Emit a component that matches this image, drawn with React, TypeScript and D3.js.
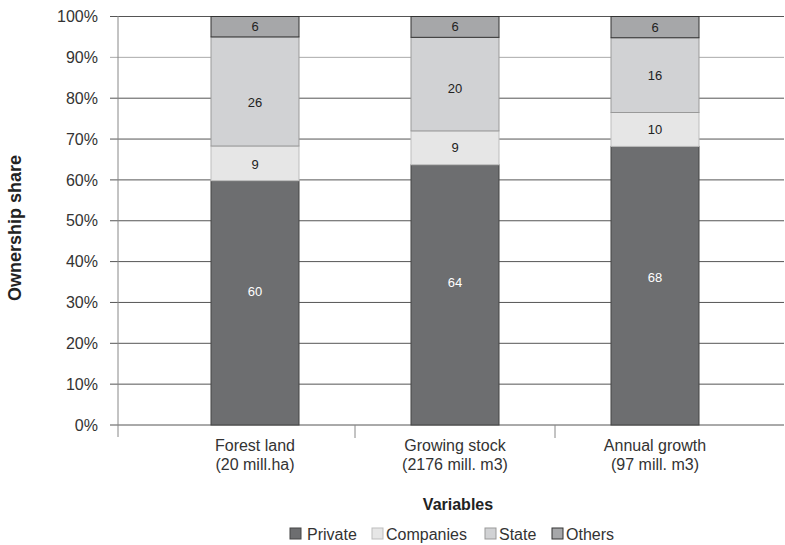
import React from "react";
import * as d3 from "d3";

const categories = ["Forest land|(20 mill.ha)", "Growing stock|(2176 mill. m3)", "Annual growth|(97 mill. m3)"];
const seriesNames = ["Private", "Companies", "State", "Others"];
// segment shares (%)
const privateVals = [59.8, 63.7, 68.2];
const companiesVals = [8.5, 8.3, 8.3];
const stateVals = [26.7, 22.9, 18.3];
const othersVals = [5.0, 5.1, 5.2];
// printed data labels
const privateLabels = ["60", "64", "68"];
const companiesLabels = ["9", "9", "10"];
const stateLabels = ["26", "20", "16"];
const othersLabels = ["6", "6", "6"];
const yTicks = [0, 0.1, 0.2, 0.3, 0.4, 0.5, 0.6, 0.7, 0.8, 0.9, 1];

const labelSets = [privateLabels, companiesLabels, stateLabels, othersLabels];
// label placement nudges (px) relative to segment centre
const labelNudge = [
  [-11, -12, -8],
  [1, 0, 0],
  [11, 4, 0],
  [0, 0, 0],
];
const colors = ["#6d6e70", "#e6e6e6", "#d1d2d4", "#a6a7a9"];
const strokes = ["#444", "#bdbdbd", "#999", "#333"];
const labelColors = ["#ffffff", "#222", "#222", "#222"];
const legendX = [290, 372, 485, 552];
const legendTextX = [307, 386, 499, 566];

export default function App() {
  const W = 785, H = 545;
  const axisX = 118;
  const x = d3.scaleBand<string>().domain(categories).range([155, 755]).paddingInner(0.56).paddingOuter(0.28);
  const y = d3.scaleLinear().domain([0, 1]).range([425, 16.5]);
  const rows = categories.map((c, i) => ({
    cat: c,
    Private: privateVals[i],
    Companies: companiesVals[i],
    State: stateVals[i],
    Others: othersVals[i],
  }));
  const stack = d3.stack<any>().keys(seriesNames).offset(d3.stackOffsetExpand);
  const series = stack(rows);
  const font = "'Liberation Sans', Arial, sans-serif";
  const bw = x.bandwidth();
  return (
    <svg width={W} height={H} style={{ position: "absolute", left: 0, top: 0 }} fontFamily={font}>
      <rect width={W} height={H} fill="#fff" />
      {yTicks.map((t) => (
        <g key={t}>
          <line x1={110} x2={784} y1={y(t)} y2={y(t)} stroke={t === 0.9 ? "#aaa" : "#555"} strokeWidth={1} />
          <text x={98} y={y(t)} dy="0.35em" textAnchor="end" fontSize={16} fill="#333">
            {Math.round(t * 100)}%
          </text>
        </g>
      ))}
      <line x1={axisX} x2={axisX} y1={16} y2={437} stroke="#888" />
      {[355, 555].map((tx) => (
        <line key={tx} x1={tx} x2={tx} y1={425} y2={438} stroke="#888" />
      ))}
      {series.map((s, si) =>
        s.map((d, i) => {
          const x0 = x(categories[i])!;
          const y0 = y(d[1]);
          const h = y(d[0]) - y(d[1]);
          return (
            <g key={si + "-" + i}>
              <rect x={x0} y={y0} width={bw} height={h} fill={colors[si]} stroke={strokes[si]} strokeWidth={1} />
              <text x={x0 + bw / 2} y={y0 + h / 2 + labelNudge[si][i]} dy="0.35em" textAnchor="middle" fontSize={13} fill={labelColors[si]}>
                {labelSets[si][i]}
              </text>
            </g>
          );
        })
      )}
      {categories.map((c) => {
        const [a, b] = c.split("|");
        const cx = x(c)! + bw / 2;
        return (
          <text key={c} x={cx} textAnchor="middle" fontSize={16} fill="#333">
            <tspan x={cx} y={451}>{a}</tspan>
            <tspan x={cx} y={470}>{b}</tspan>
          </text>
        );
      })}
      <text x={458} y={510} textAnchor="middle" fontSize={16} fontWeight="bold" fill="#222">Variables</text>
      <text transform="translate(21,228) rotate(-90)" textAnchor="middle" fontSize={18} fontWeight="bold" fill="#222">
        Ownership share
      </text>
      {seriesNames.map((n, i) => (
        <g key={n}>
          <rect x={legendX[i]} y={528} width={11} height={11} fill={colors[i]} stroke={strokes[i]} />
          <text x={legendTextX[i]} y={540} fontSize={16} fill="#333">{n}</text>
        </g>
      ))}
    </svg>
  );
}
